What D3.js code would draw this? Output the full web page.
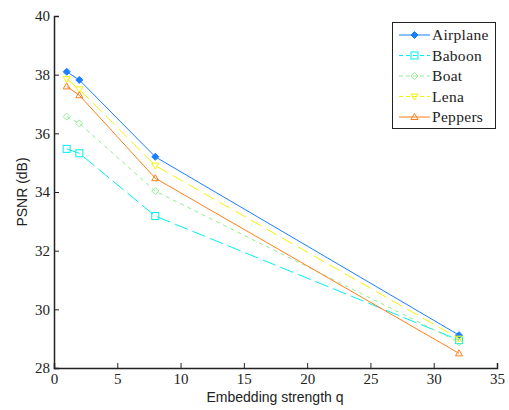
<!DOCTYPE html>
<html><head><meta charset="utf-8">
<script src="https://cdn.jsdelivr.net/npm/d3@7"></script>
<style>body{margin:0;background:#fff}svg{display:block}</style>
</head><body>
<script>
const xValues = [1, 2, 8, 32];
const seriesNames = ["Airplane", "Baboon", "Boat", "Lena", "Peppers"];
const airplane = [38.1, 37.82, 35.2, 29.12];
const baboon = [35.47, 35.32, 33.18, 28.95];
const boat = [36.57, 36.34, 34.03, 28.88];
const lena = [37.85, 37.5, 34.9, 29.0];
const peppers = [37.6, 37.3, 34.47, 28.5];
const xTicks = [0, 5, 10, 15, 20, 25, 30, 35];
const yTicks = [28, 30, 32, 34, 36, 38, 40];

const styles = [
  {c:"#1a7fff", dash:null, m:"diamondF"},
  {c:"#00f0f0", dash:"14,5", m:"square"},
  {c:"#90ee90", dash:"4,4", m:"diamond"},
  {c:"#f4f400", dash:"12,6", m:"triDown"},
  {c:"#ff7f1a", dash:null, m:"triUp"}
];
const data = [airplane, baboon, boat, lena, peppers];

const W = 509, H = 410;
const svg = d3.select("body").append("svg").attr("width", W).attr("height", H);
const x = d3.scaleLinear().domain([0, 35]).range([54, 497]);
const y = d3.scaleLinear().domain([28, 40]).range([368, 16]);

const serif = "'Liberation Serif', 'Times New Roman', serif";
const sans = "'Liberation Sans', Arial, sans-serif";

const gx = svg.append("g").attr("transform", "translate(0,368)")
  .call(d3.axisBottom(x).tickValues(xTicks).tickSize(-5).tickPadding(5).tickFormat(d3.format("d")));
const gy = svg.append("g").attr("transform", "translate(54,0)")
  .call(d3.axisLeft(y).tickValues(yTicks).tickSize(-5).tickPadding(4).tickFormat(d3.format("d")));
[gx, gy].forEach(g => {
  g.select(".domain").attr("stroke", "#222").attr("stroke-width", 1.5);
  g.selectAll(".tick line").attr("stroke", "#222");
  g.selectAll("text").attr("font-family", serif).attr("font-size", 15).attr("fill", "#222");
});

svg.append("text").attr("x", 275).attr("y", 402).attr("text-anchor", "middle")
  .attr("font-family", sans).attr("font-size", 14).attr("fill", "#222").text("Embedding strength q");
svg.append("text").attr("transform", "translate(27,192) rotate(-90)").attr("text-anchor", "middle")
  .attr("font-family", sans).attr("font-size", 14).attr("fill", "#222").text("PSNR (dB)");

function marker(g, type, cx, cy, c) {
  const s = 3.5;
  if (type === "diamondF" || type === "diamond") {
    g.append("path").attr("d", `M${cx},${cy-s}L${cx+s},${cy}L${cx},${cy+s}L${cx-s},${cy}Z`)
      .attr("fill", type === "diamondF" ? c : "none").attr("stroke", c).attr("stroke-width", 1);
  } else if (type === "square") {
    g.append("rect").attr("x", cx-s).attr("y", cy-s).attr("width", 2*s).attr("height", 2*s)
      .attr("fill", "none").attr("stroke", c).attr("stroke-width", 1);
  } else if (type === "triDown") {
    g.append("path").attr("d", `M${cx-s},${cy-s+1}L${cx+s},${cy-s+1}L${cx},${cy+s}Z`)
      .attr("fill", "none").attr("stroke", c).attr("stroke-width", 1);
  } else if (type === "triUp") {
    g.append("path").attr("d", `M${cx-s},${cy+s-1}L${cx+s},${cy+s-1}L${cx},${cy-s}Z`)
      .attr("fill", "none").attr("stroke", c).attr("stroke-width", 1);
  }
}

const line = d3.line().x((d, i) => x(xValues[i])).y(d => y(d));
data.forEach((vals, k) => {
  const st = styles[k];
  const g = svg.append("g");
  g.append("path").attr("d", line(vals)).attr("fill", "none").attr("stroke", st.c)
    .attr("stroke-width", 1).attr("stroke-dasharray", st.dash);
  vals.forEach((v, i) => marker(g, st.m, x(xValues[i]), y(v), st.c));
});

// legend
const lg = svg.append("g");
lg.append("rect").attr("x", 392.5).attr("y", 22.5).attr("width", 103).attr("height", 106)
  .attr("fill", "#fff").attr("stroke", "#222").attr("stroke-width", 1);
seriesNames.forEach((n, k) => {
  const st = styles[k];
  const yy = 35 + k * 20.5;
  lg.append("line").attr("x1", 399).attr("x2", 430).attr("y1", yy).attr("y2", yy)
    .attr("stroke", st.c).attr("stroke-width", 1).attr("stroke-dasharray", st.dash ? "4,3" : null);
  marker(lg, st.m, 414.5, yy, st.c);
  lg.append("text").attr("x", 432).attr("y", yy + 5).attr("font-family", serif)
    .attr("font-size", 15.5).attr("letter-spacing", 0.3).attr("fill", "#222").text(n);
});
</script>
</body></html>
